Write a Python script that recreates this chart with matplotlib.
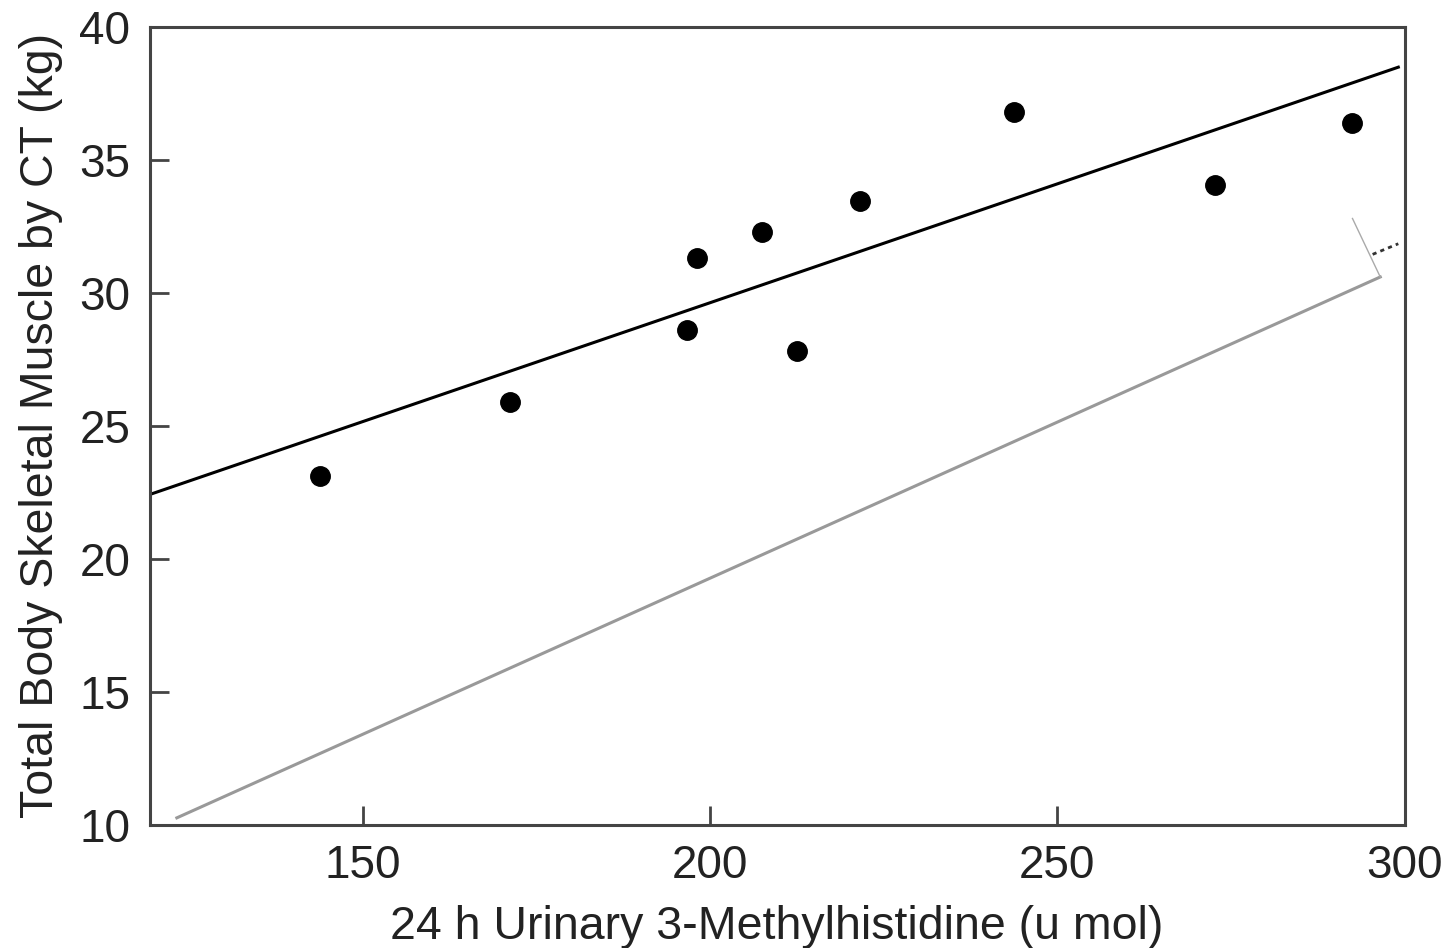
import matplotlib
matplotlib.use("Agg")
import matplotlib.pyplot as plt

plt.rcParams["font.family"] = ["Liberation Sans", "DejaVu Sans"]

# datos
mh = [143.8, 171.2, 196.7, 198.1, 207.5, 212.5, 221.6, 243.8, 272.7, 292.5]
musculo = [23.1, 25.9, 28.6, 31.3, 32.3, 27.8, 33.45, 36.8, 34.05, 36.4]

recta_x = [119.3, 299.1]   # recta de regresion
recta_y = [22.42, 38.49]

gris_x = [123.2, 296.5]    # linea gris del escaneo
gris_y = [10.26, 30.6]
pliegue_x = [296.5, 292.5]
pliegue_y = [30.6, 32.8]
punteado_x = [295.4, 299.1]
punteado_y = [31.45, 31.85]

fig = plt.figure(figsize=(14.54, 9.48), dpi=100)
ax = fig.add_axes([0.103, 0.13, 0.863, 0.8415])

ax.plot(gris_x, gris_y, color="#999999", lw=2.2)
ax.plot(pliegue_x, pliegue_y, color="#aaaaaa", lw=1)
ax.plot(punteado_x, punteado_y, color="#333333", lw=2, ls=(0, (1.5, 1.5)))
ax.plot(recta_x, recta_y, color="black", lw=2.2)
ax.plot(mh, musculo, "o", color="black", ms=14)

ax.set_xlim(119.3, 300)
ax.set_ylim(10, 40)
ax.set_xticks([150, 200, 250, 300])
ax.set_yticks([10, 15, 20, 25, 30, 35, 40])
ax.tick_params(direction="in", length=14, width=2, color="#444444",
               labelsize=33, labelcolor="#222222", pad=14)
for s in ax.spines.values():
    s.set_color("#444444")
    s.set_linewidth(2.2)

ax.set_xlabel("24 h Urinary 3-Methylhistidine (u mol)", fontsize=33.5, color="#222222", labelpad=12)
ax.set_ylabel("Total Body Skeletal Muscle by CT (kg)", fontsize=33.5, color="#222222", labelpad=12)

fig.savefig("out.png", dpi=100)
